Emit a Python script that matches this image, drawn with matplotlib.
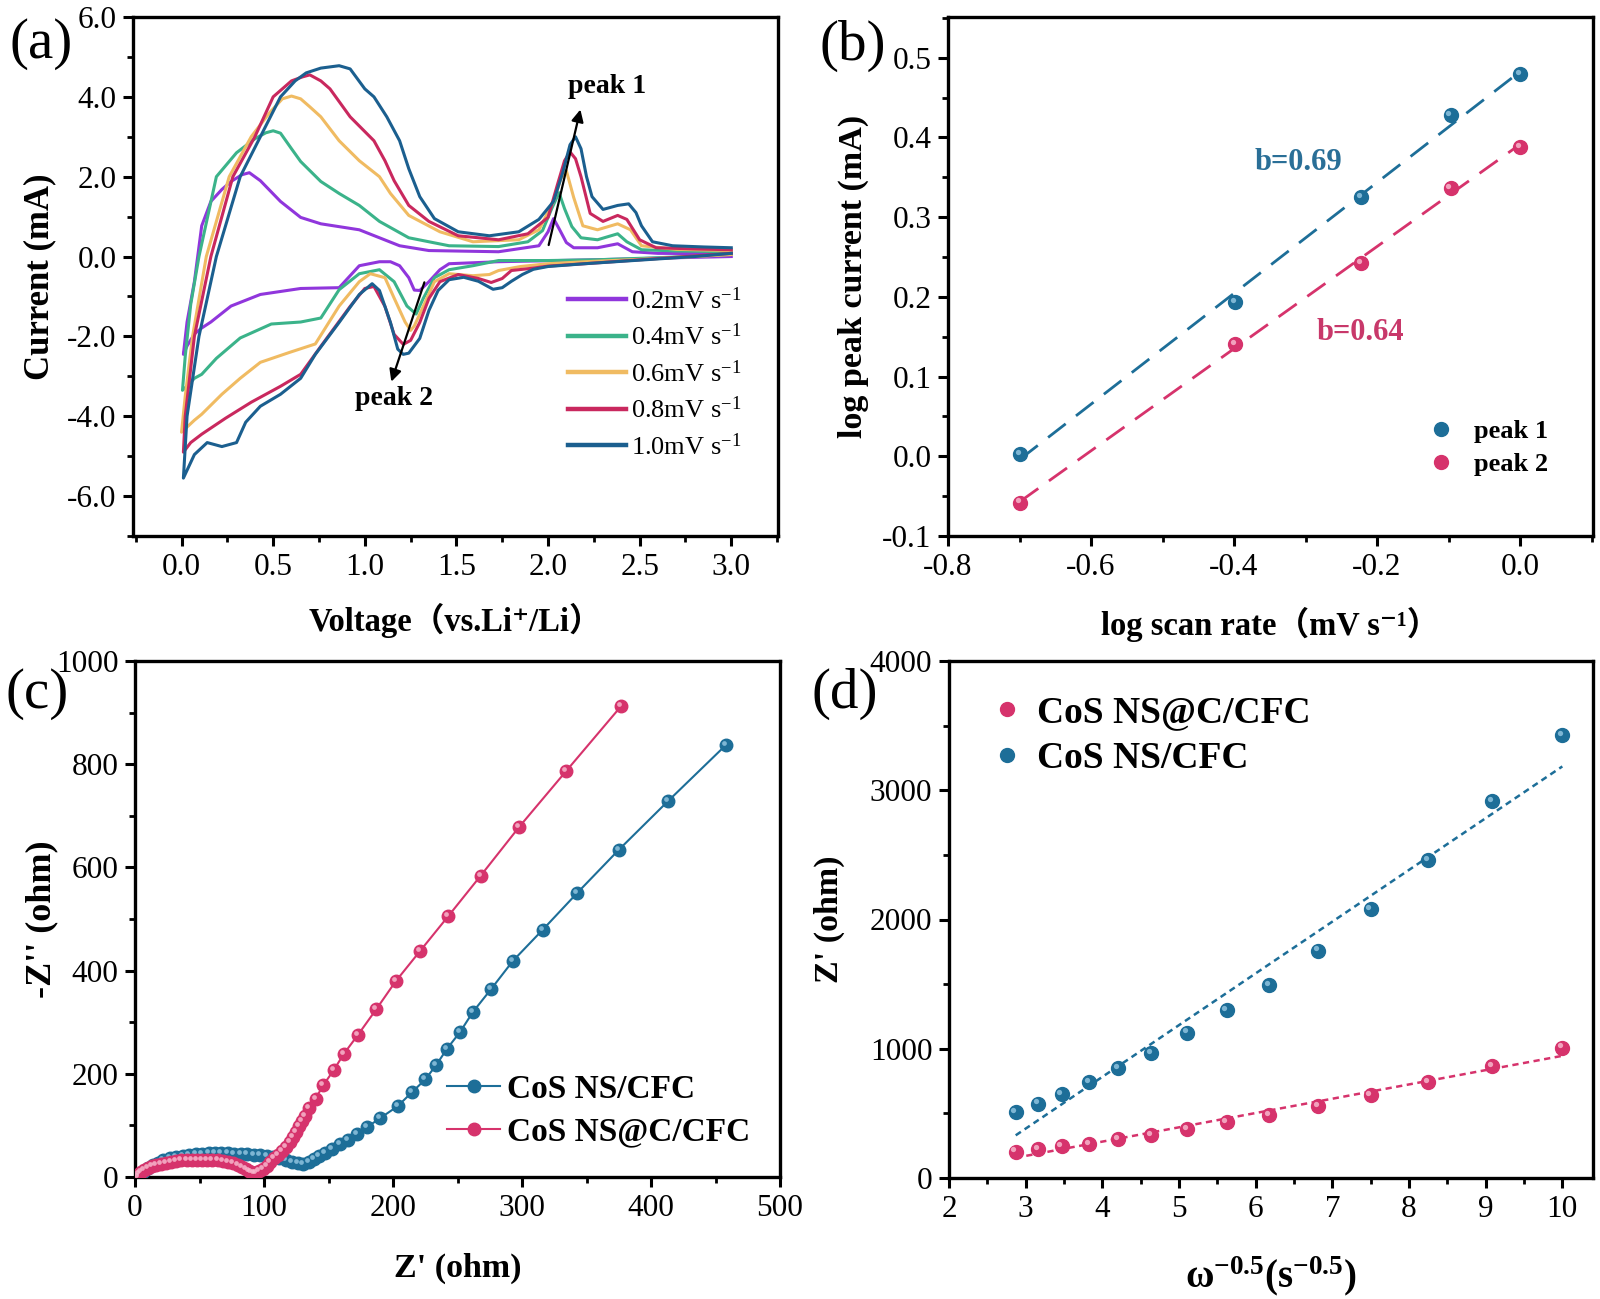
import numpy as np
import matplotlib
matplotlib.use('Agg')
import matplotlib.pyplot as plt
from matplotlib.ticker import MultipleLocator, FormatStrFormatter
from matplotlib.transforms import ScaledTranslation

plt.rcParams['font.family'] = ['Liberation Serif', 'Noto Sans CJK SC', 'DejaVu Serif']
plt.rcParams['mathtext.fontset'] = 'custom'
plt.rcParams['mathtext.rm'] = 'Liberation Serif'
plt.rcParams['mathtext.bf'] = 'Liberation Serif:bold'
plt.rcParams['mathtext.it'] = 'Liberation Serif:italic'
plt.rcParams['axes.unicode_minus'] = False

# ---------------- (a) CV curves ----------------
scan_labels = ['0.2mV s$^{-1}$', '0.4mV s$^{-1}$', '0.6mV s$^{-1}$', '0.8mV s$^{-1}$', '1.0mV s$^{-1}$']
cv_colors = ['#9036dc', '#3bb38a', '#f0bb62', '#c9285e', '#1b5f8f']

# 0.2 mV/s : cathodic (3.0 -> 0) then anodic (0 -> 3.0)
v02_c = [3.0, 2.6, 2.27, 1.73, 1.46, 1.41, 1.35, 1.30, 1.27, 1.24, 1.19, 1.14, 1.08, 0.97, 0.89, 0.86, 0.65, 0.43, 0.27, 0.16, 0.11, 0.07, 0.03, 0.01]
i02_c = [0.0, -0.04, -0.08, -0.13, -0.18, -0.33, -0.63, -0.85, -0.84, -0.53, -0.23, -0.13, -0.13, -0.23, -0.63, -0.78, -0.8, -0.95, -1.24, -1.64, -1.79, -1.94, -2.24, -2.45]
v02_a = [0.01, 0.03, 0.07, 0.11, 0.16, 0.22, 0.27, 0.33, 0.37, 0.43, 0.54, 0.65, 0.76, 0.97, 1.08, 1.19, 1.35, 1.73, 1.95, 2.0, 2.03, 2.06, 2.10, 2.14, 2.27, 2.38, 2.46, 2.6, 3.0]
i02_a = [-2.45, -1.64, -0.63, 0.77, 1.38, 1.68, 1.88, 2.05, 2.1, 1.9, 1.38, 0.98, 0.82, 0.67, 0.47, 0.27, 0.15, 0.12, 0.27, 0.62, 0.95, 0.7, 0.35, 0.22, 0.22, 0.32, 0.12, 0.08, 0.07]

# 0.4 mV/s
v04_c = [3.0, 2.6, 2.27, 2.0, 1.73, 1.59, 1.46, 1.38, 1.32, 1.28, 1.23, 1.16, 1.08, 0.97, 0.86, 0.76, 0.65, 0.49, 0.32, 0.19, 0.11, 0.07, 0.03, 0.005]
i04_c = [0.05, -0.03, -0.08, -0.1, -0.1, -0.23, -0.33, -0.53, -1.04, -1.44, -1.24, -0.63, -0.33, -0.43, -0.83, -1.54, -1.64, -1.69, -2.04, -2.55, -2.95, -3.05, -3.25, -3.35]
v04_a = [0.005, 0.02, 0.05, 0.095, 0.19, 0.30, 0.40, 0.46, 0.50, 0.54, 0.60, 0.65, 0.76, 0.86, 0.97, 1.08, 1.24, 1.46, 1.73, 1.89, 1.97, 2.02, 2.06, 2.09, 2.13, 2.18, 2.27, 2.38, 2.43, 2.51, 2.7, 3.0]
i04_a = [-3.35, -2.5, -1.2, 0.0, 2.0, 2.6, 2.95, 3.1, 3.15, 3.09, 2.7, 2.38, 1.88, 1.58, 1.28, 0.88, 0.47, 0.27, 0.25, 0.37, 0.65, 1.2, 1.6, 1.2, 0.75, 0.47, 0.42, 0.57, 0.37, 0.17, 0.14, 0.12]

# 0.6 mV/s
v06_c = [3.0, 2.6, 2.2, 2.0, 1.85, 1.73, 1.68, 1.59, 1.46, 1.38, 1.32, 1.27, 1.25, 1.22, 1.16, 1.11, 1.03, 0.97, 0.86, 0.73, 0.59, 0.43, 0.32, 0.22, 0.11, 0.07, 0.0]
i06_c = [0.05, -0.05, -0.13, -0.18, -0.25, -0.35, -0.45, -0.48, -0.43, -0.63, -1.24, -1.74, -1.85, -1.64, -1.04, -0.53, -0.43, -0.63, -1.24, -2.19, -2.4, -2.65, -3.05, -3.45, -3.95, -4.1, -4.4]
v06_a = [0.0, 0.02, 0.06, 0.135, 0.26, 0.38, 0.48, 0.55, 0.60, 0.65, 0.70, 0.76, 0.86, 0.97, 1.08, 1.14, 1.24, 1.41, 1.59, 1.84, 1.95, 2.03, 2.07, 2.10, 2.14, 2.19, 2.27, 2.38, 2.45, 2.51, 2.7, 3.0]
i06_a = [-4.4, -3.5, -2.0, 0.0, 2.0, 3.0, 3.6, 3.95, 4.02, 3.95, 3.75, 3.5, 2.9, 2.4, 2.0, 1.58, 1.03, 0.62, 0.37, 0.42, 0.67, 1.38, 1.95, 2.15, 1.48, 0.77, 0.67, 0.82, 0.67, 0.27, 0.18, 0.15]

# 0.8 mV/s
v08_c = [3.0, 2.6, 2.2, 2.0, 1.9, 1.80, 1.75, 1.69, 1.62, 1.51, 1.41, 1.35, 1.30, 1.25, 1.21, 1.16, 1.11, 1.05, 1.0, 0.92, 0.76, 0.65, 0.54, 0.38, 0.24, 0.11, 0.05, 0.01]
i08_c = [0.08, -0.05, -0.18, -0.24, -0.3, -0.35, -0.55, -0.65, -0.55, -0.45, -0.63, -1.05, -1.65, -2.1, -2.2, -1.95, -1.25, -0.75, -0.8, -1.25, -2.25, -2.95, -3.25, -3.65, -4.05, -4.45, -4.66, -4.9]
v08_a = [0.01, 0.02, 0.07, 0.16, 0.28, 0.40, 0.50, 0.60, 0.66, 0.70, 0.76, 0.81, 0.92, 1.05, 1.11, 1.16, 1.24, 1.35, 1.51, 1.73, 1.89, 2.0, 2.05, 2.09, 2.12, 2.15, 2.18, 2.23, 2.30, 2.38, 2.43, 2.50, 2.59, 2.8, 3.0]
i08_a = [-4.9, -4.0, -2.0, 0.0, 2.0, 3.0, 4.0, 4.4, 4.5, 4.55, 4.4, 4.2, 3.5, 2.9, 2.4, 1.9, 1.28, 0.88, 0.52, 0.42, 0.57, 0.98, 1.78, 2.4, 2.62, 2.45, 2.0, 1.08, 0.88, 1.03, 0.93, 0.42, 0.22, 0.19, 0.17]

# 1.0 mV/s
v10_c = [3.0, 2.8, 2.6, 2.4, 2.2, 2.0, 1.92, 1.86, 1.80, 1.75, 1.70, 1.66, 1.62, 1.54, 1.46, 1.40, 1.35, 1.30, 1.24, 1.21, 1.18, 1.14, 1.08, 1.04, 0.97, 0.86, 0.73, 0.65, 0.54, 0.43, 0.35, 0.30, 0.22, 0.14, 0.07, 0.01]
i10_c = [0.08, 0.0, -0.06, -0.12, -0.18, -0.25, -0.32, -0.45, -0.62, -0.78, -0.82, -0.72, -0.62, -0.52, -0.58, -0.85, -1.35, -2.05, -2.42, -2.45, -2.32, -1.65, -0.85, -0.68, -0.95, -1.65, -2.45, -3.05, -3.45, -3.75, -4.15, -4.66, -4.76, -4.66, -4.96, -5.55]
v10_a = [0.01, 0.03, 0.095, 0.19, 0.32, 0.43, 0.54, 0.62, 0.68, 0.76, 0.86, 0.92, 1.0, 1.05, 1.12, 1.19, 1.24, 1.30, 1.38, 1.51, 1.68, 1.84, 1.95, 2.03, 2.08, 2.12, 2.15, 2.18, 2.21, 2.24, 2.30, 2.38, 2.44, 2.48, 2.51, 2.57, 2.68, 2.85, 3.0]
i10_a = [-5.55, -4.0, -2.0, 0.0, 2.0, 3.0, 4.0, 4.4, 4.6, 4.72, 4.78, 4.7, 4.2, 4.0, 3.5, 2.9, 2.2, 1.5, 0.95, 0.62, 0.52, 0.62, 0.93, 1.38, 2.1, 2.8, 3.0, 2.7, 2.0, 1.5, 1.18, 1.28, 1.32, 1.1, 0.77, 0.37, 0.27, 0.24, 0.22]

cv_v = [v02_c + v02_a, v04_c + v04_a, v06_c + v06_a, v08_c + v08_a, v10_c + v10_a]
cv_i = [i02_c + i02_a, i04_c + i04_a, i06_c + i06_a, i08_c + i08_a, i10_c + i10_a]

# ---------------- (b) b-value ----------------
log_rate = [-0.699, -0.398, -0.222, -0.097, 0.0]
log_peak1 = [0.003, 0.193, 0.325, 0.428, 0.479]
log_peak2 = [-0.058, 0.141, 0.242, 0.336, 0.388]

# ---------------- (c) Nyquist ----------------
ns_zre = [3, 5, 7, 10, 14, 18, 22, 27, 32, 37, 42, 47, 52, 57, 62, 67, 72, 77, 82, 87, 92, 97, 102, 107, 112, 117, 122, 126, 130,
          135, 139, 143, 147.5, 153, 159, 165, 172, 179.5, 190, 203.5, 215, 225, 233.5, 242, 252, 262, 276, 293, 316, 343, 375, 413, 458]
ns_zim = [0, 6, 12, 18, 23, 28, 32, 36, 39, 41, 43, 44, 45, 46, 46, 46, 46, 45.5, 45, 44, 43, 42, 40, 38, 36, 33, 30, 27, 25,
          30, 35, 40, 47, 55, 63, 72, 84, 96, 114, 137, 165, 189, 217, 249, 281, 320, 364, 419, 479, 551, 634, 728, 837]
nsc_zre = [2, 3, 5, 7, 10, 13, 16, 20, 24, 28, 32, 36, 40, 44, 48, 52, 56, 60, 64, 68, 72, 76, 80, 83, 86, 88, 90, 92, 94, 96, 99,
           102, 105, 108, 111, 114, 117, 120, 122.5, 125, 127.5, 129.5, 132, 135, 140, 146, 154, 162, 173, 187, 202, 221, 243, 268, 298, 334, 377]
nsc_zim = [0, 5, 10, 14, 18, 21, 24, 26, 28, 30, 31, 32, 32.5, 33, 33, 33, 33, 32.5, 32, 31, 29.5, 27, 24, 20, 16, 12, 9, 7, 8, 11, 16,
           22, 29, 36, 43, 51, 59, 68, 77, 88, 99, 109, 119, 133, 152, 178, 207, 239, 276, 325, 379, 438, 506, 584, 679, 786, 913]

# ---------------- (d) Warburg ----------------
omega_inv_sqrt = [2.87, 3.16, 3.47, 3.83, 4.21, 4.64, 5.11, 5.62, 6.18, 6.81, 7.50, 8.25, 9.08, 10.0]
zre_nsc = [205, 222, 245, 265, 298, 331, 377, 430, 486, 559, 642, 741, 867, 1009]
zre_ns = [509, 575, 652, 741, 850, 966, 1125, 1297, 1495, 1760, 2081, 2461, 2918, 3424]

BLUE = '#1d6e98'
PINK = '#d6336c'
BLUE_L = '#8fc3df'
PINK_L = '#f7b6cc'

W, H = 1600, 1299
fig = plt.figure(figsize=(16, 12.99), dpi=100)


def axpx(l, t, r, b):
    return fig.add_axes([l / W, 1 - b / H, (r - l) / W, (b - t) / H])


def style(ax):
    for s in ax.spines.values():
        s.set_linewidth(2.4)
    ax.tick_params(which='major', direction='out', length=7, width=2.2, labelsize=22.5, pad=5,
                   top=False, right=False)
    ax.tick_params(which='minor', direction='out', length=4.3, width=2.0, top=False, right=False)


def balls(ax, x, y, color, light, ms, z=3):
    ax.plot(x, y, 'o', ls='none', ms=ms, color=color, mec=color, zorder=z)
    off = ScaledTranslation(-ms * 0.16 / 72, ms * 0.16 / 72, fig.dpi_scale_trans)
    ax.plot(x, y, 'o', ls='none', ms=ms * 0.38, color=light, mec='none', alpha=0.85,
            zorder=z + 0.1, transform=ax.transData + off)


def fx(px):
    return px / W


def fy(py):
    return 1 - py / H


lab_kw = dict(fontsize=24.5, fontweight='bold')

# ---------------- panel (a) ----------------
axA = axpx(133, 17, 778, 536)
for v, i, c, lab in zip(cv_v, cv_i, cv_colors, scan_labels):
    axA.plot(v, i, color=c, lw=2.2, label=lab)
axA.set_xlim(-0.265, 3.255)
axA.set_ylim(-7, 6)
axA.xaxis.set_major_locator(MultipleLocator(0.5))
axA.xaxis.set_minor_locator(MultipleLocator(0.25))
axA.yaxis.set_major_locator(MultipleLocator(2.0))
axA.yaxis.set_minor_locator(MultipleLocator(1.0))
axA.xaxis.set_major_formatter(FormatStrFormatter('%.1f'))
axA.yaxis.set_major_formatter(FormatStrFormatter('%.1f'))
style(axA)
axA.set_xlabel('Voltage（vs.Li⁺/Li）', labelpad=15, fontsize=23.5, fontweight='bold')
axA.set_ylabel('Current (mA)', labelpad=8, fontsize=25, fontweight='bold')
axA.annotate('', xy=(2.18, 3.75), xytext=(2.0, 0.22),
             arrowprops=dict(arrowstyle='-|>', color='black', lw=1.6, mutation_scale=18))
axA.text(2.32, 4.25, 'peak 1', fontsize=20, fontweight='bold', ha='center', va='center')
axA.annotate('', xy=(1.14, -3.2), xytext=(1.33, -0.58),
             arrowprops=dict(arrowstyle='-|>', color='black', lw=1.6, mutation_scale=18))
axA.text(1.16, -3.55, 'peak 2', fontsize=20, fontweight='bold', ha='center', va='center')
legA = axA.legend(loc='upper left', bbox_to_anchor=(fx(568), fy(287)), bbox_transform=fig.transFigure,
                  frameon=False, fontsize=19, handlelength=2.2, handletextpad=0.2, labelspacing=0.38,
                  borderpad=0, borderaxespad=0)
for ln in legA.get_lines():
    ln.set_linewidth(3.2)

# ---------------- panel (b) ----------------
axB = axpx(948, 17, 1593, 536)
lr = np.array(log_rate)
for yv, c, cl in [(log_peak1, BLUE, BLUE_L), (log_peak2, PINK, PINK_L)]:
    p = np.polyfit(lr, np.array(yv), 1)
    xx = np.array([lr.min(), lr.max()])
    axB.plot(xx, np.polyval(p, xx), ls=(0, (8, 4.7)), lw=2.0, color=c, zorder=2)
    balls(axB, log_rate, yv, c, cl, ms=10)
axB.set_xlim(-0.8, 0.102)
axB.set_ylim(-0.1, 0.551)
axB.xaxis.set_major_locator(MultipleLocator(0.2))
axB.xaxis.set_minor_locator(MultipleLocator(0.1))
axB.yaxis.set_major_locator(MultipleLocator(0.1))
axB.yaxis.set_minor_locator(MultipleLocator(0.05))
axB.xaxis.set_major_formatter(FormatStrFormatter('%.1f'))
axB.yaxis.set_major_formatter(FormatStrFormatter('%.1f'))
style(axB)
axB.set_xlabel('log scan rate（mV s⁻¹）', labelpad=18, fontsize=23.5, fontweight='bold')
axB.set_ylabel('log peak current (mA)', labelpad=9.5, **lab_kw)
axB.text(-0.31, 0.368, 'b=0.69', color='#2a6f97', fontsize=22, fontweight='bold', ha='center', va='center')
axB.text(-0.223, 0.155, 'b=0.64', color='#c8386a', fontsize=22, fontweight='bold', ha='center', va='center')
hb1, = axB.plot([], [], 'o', ls='none', ms=10, color=BLUE)
hb2, = axB.plot([], [], 'o', ls='none', ms=10, color=PINK)
axB.legend([hb1, hb2], ['peak 1', 'peak 2'], loc='upper left', bbox_to_anchor=(fx(1428), fy(420)),
           bbox_transform=fig.transFigure, frameon=False, prop=dict(size=19, weight='bold'),
           handlelength=1.0, handletextpad=0.75, labelspacing=0.35, borderpad=0, borderaxespad=0)

# ---------------- panel (c) ----------------
axC = axpx(135, 661, 780, 1177)
axC.plot(ns_zre, ns_zim, '-', lw=1.5, color=BLUE, zorder=2)
balls(axC, ns_zre, ns_zim, BLUE, BLUE_L, ms=9, z=3)
axC.plot(nsc_zre, nsc_zim, '-', lw=1.5, color=PINK, zorder=4)
balls(axC, nsc_zre, nsc_zim, PINK, PINK_L, ms=9, z=5)
axC.set_xlim(0, 500)
axC.set_ylim(0, 1000)
axC.xaxis.set_major_locator(MultipleLocator(100))
axC.xaxis.set_minor_locator(MultipleLocator(50))
axC.yaxis.set_major_locator(MultipleLocator(200))
axC.yaxis.set_minor_locator(MultipleLocator(100))
style(axC)
axC.set_xlabel("Z' (ohm)", labelpad=22, **lab_kw)
axC.set_ylabel("-Z'' (ohm)", labelpad=-2, fontsize=26, fontweight='bold')
hc1, = axC.plot([], [], 'o-', ms=9, lw=1.5, color=BLUE)
hc2, = axC.plot([], [], 'o-', ms=9, lw=1.5, color=PINK)
axC.legend([hc1, hc2], ['CoS NS/CFC', 'CoS NS@C/CFC'], loc='upper left', bbox_to_anchor=(fx(447), fy(1074)),
           bbox_transform=fig.transFigure, frameon=False, prop=dict(size=24, weight='bold'),
           handlelength=1.6, handletextpad=0.2, labelspacing=0.35, borderpad=0, borderaxespad=0)

# ---------------- panel (d) ----------------
axD = axpx(949, 661, 1593, 1178)
ow = np.array(omega_inv_sqrt)
for yv, c in [(zre_ns, BLUE), (zre_nsc, PINK)]:
    p = np.polyfit(ow, np.array(yv), 1)
    xx = np.array([ow.min(), ow.max()])
    axD.plot(xx, np.polyval(p, xx), ls=(0, (2.5, 1.8)), lw=1.8, color=c, zorder=2)
balls(axD, omega_inv_sqrt, zre_nsc, PINK, PINK_L, ms=10)
balls(axD, omega_inv_sqrt, zre_ns, BLUE, BLUE_L, ms=10)
axD.set_xlim(2, 10.4)
axD.set_ylim(0, 4000)
axD.xaxis.set_major_locator(MultipleLocator(1))
axD.xaxis.set_minor_locator(MultipleLocator(0.5))
axD.yaxis.set_major_locator(MultipleLocator(1000))
axD.yaxis.set_minor_locator(MultipleLocator(500))
style(axD)
axD.set_xlabel(r'ω$^{\mathbf{-0.5}}$(s$^{\mathbf{-0.5}}$)', labelpad=22, fontsize=28, fontweight='bold')
axD.set_ylabel("Z' (ohm)", labelpad=18, **lab_kw)
hd1, = axD.plot([], [], 'o', ls='none', ms=10, color=PINK)
hd2, = axD.plot([], [], 'o', ls='none', ms=10, color=BLUE)
axD.legend([hd1, hd2], ['CoS NS@C/CFC', 'CoS NS/CFC'], loc='upper left', bbox_to_anchor=(fx(992), fy(695)),
           bbox_transform=fig.transFigure, frameon=False, prop=dict(size=27, weight='bold'),
           handlelength=0.8, handletextpad=0.4, labelspacing=0.3, borderpad=0, borderaxespad=0)

# panel labels
fig.text(fx(9), fy(44), '(a)', fontsize=41, ha='left', va='center')
fig.text(fx(820), fy(46), '(b)', fontsize=41, ha='left', va='center')
fig.text(fx(6), fy(694), '(c)', fontsize=41, ha='left', va='center')
fig.text(fx(812), fy(694), '(d)', fontsize=41, ha='left', va='center')

fig.savefig('out.png', dpi=100)
